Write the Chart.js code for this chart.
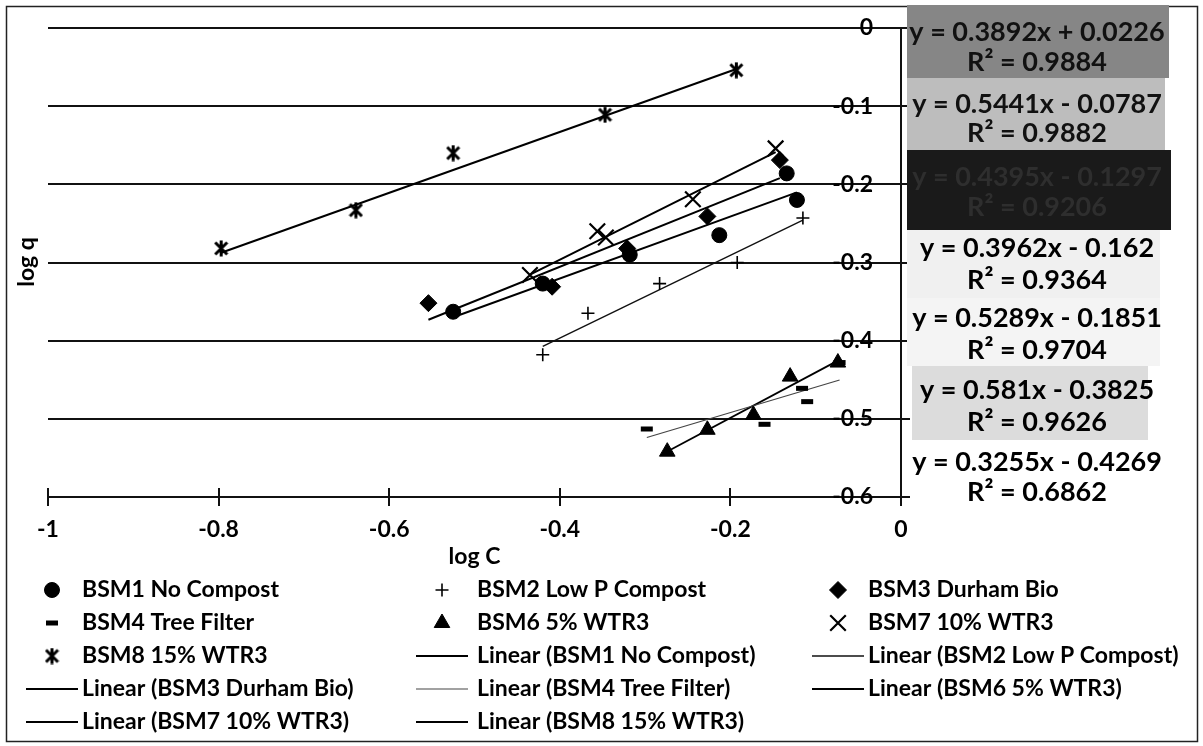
<!DOCTYPE html>
<html lang="en">
<head>
<meta charset="utf-8">
<title>log q vs log C</title>
<script src="https://cdn.jsdelivr.net/npm/chart.js@4.4.1/dist/chart.umd.min.js"></script>
<style>
    html, body { margin: 0; padding: 0; background: #ffffff; }
    canvas { display: block; }
</style>
</head>
<body>
<canvas id="isotherm" width="1203" height="746"></canvas>
<script>
// log C / log q pairs for each media mix
const seriesNames = ['BSM1 No Compost', 'BSM2 Low P Compost', 'BSM3 Durham Bio', 'BSM4 Tree Filter',
                     'BSM6 5% WTR3', 'BSM7 10% WTR3', 'BSM8 15% WTR3'];

const logC_BSM1 = [-0.525, -0.420, -0.318, -0.213, -0.134, -0.122];
const logQ_BSM1 = [-0.363, -0.327, -0.290, -0.265, -0.186, -0.220];

const logC_BSM2 = [-0.420, -0.367, -0.283, -0.192, -0.115];
const logQ_BSM2 = [-0.418, -0.365, -0.327, -0.300, -0.243];

const logC_BSM3 = [-0.554, -0.409, -0.321, -0.227, -0.142];
const logQ_BSM3 = [-0.352, -0.331, -0.282, -0.241, -0.169];

const logC_BSM4 = [-0.298, -0.160, -0.116, -0.110, -0.072];
const logQ_BSM4 = [-0.513, -0.507, -0.461, -0.478, -0.428];

const logC_BSM6 = [-0.274, -0.227, -0.173, -0.130, -0.074];
const logQ_BSM6 = [-0.542, -0.514, -0.495, -0.446, -0.428];

const logC_BSM7 = [-0.435, -0.356, -0.346, -0.244, -0.147];
const logQ_BSM7 = [-0.316, -0.260, -0.268, -0.219, -0.154];

const logC_BSM8 = [-0.797, -0.639, -0.525, -0.347, -0.193];
const logQ_BSM8 = [-0.282, -0.233, -0.160, -0.111, -0.054];

// linear fits, same order as seriesNames
const slopes = [0.3962, 0.5289, 0.4395, 0.3255, 0.581, 0.5441, 0.3892];
const intercepts = [-0.162, -0.1851, -0.1297, -0.4269, -0.3825, -0.0787, 0.0226];
const rSquared = [0.9364, 0.9704, 0.9206, 0.6862, 0.9626, 0.9882, 0.9884];

const xTicks = [-1, -0.8, -0.6, -0.4, -0.2, 0];
const yTicks = [-0.6, -0.5, -0.4, -0.3, -0.2, -0.1, 0];

const logC = [logC_BSM1, logC_BSM2, logC_BSM3, logC_BSM4, logC_BSM6, logC_BSM7, logC_BSM8];
const logQ = [logQ_BSM1, logQ_BSM2, logQ_BSM3, logQ_BSM4, logQ_BSM6, logQ_BSM7, logQ_BSM8];


// Excel style "x with a bar" marker for BSM8
function makeAsterisk(w, h, lw) {
    const c = document.createElement('canvas');
    c.width = w;
    c.height = h;
    const g = c.getContext('2d');
    g.strokeStyle = '#000';
    g.lineWidth = lw;
    g.beginPath();
    g.moveTo(1.5, 2.5); g.lineTo(w - 1.5, h - 2.5);
    g.moveTo(w - 1.5, 2.5); g.lineTo(1.5, h - 2.5);
    g.moveTo(w / 2, 0.5); g.lineTo(w / 2, h - 0.5);
    g.stroke();
    return c;
}

const markerStyles = [
    { pointStyle: 'circle', radius: 7.5, borderWidth: 1, lineWidth: 2, lineColor: '#000' },
    { pointStyle: 'cross', radius: 6.5, borderWidth: 1.6, lineWidth: 1.4, lineColor: '#111' },
    { pointStyle: 'rectRot', radius: 8.5, borderWidth: 1, lineWidth: 2, lineColor: '#000' },
    { pointStyle: 'line', radius: 6, borderWidth: 5, lineWidth: 1.2, lineColor: '#444' },
    { pointStyle: 'triangle', radius: 9, borderWidth: 1, lineWidth: 1.8, lineColor: '#000' },
    { pointStyle: 'crossRot', radius: 11, borderWidth: 2.2, lineWidth: 2, lineColor: '#000' },
    { pointStyle: makeAsterisk(15, 17, 3), radius: 8, borderWidth: 1, lineWidth: 2, lineColor: '#000' }
];

function fitText(i) {
    const b = intercepts[i];
    return ['y = ' + slopes[i] + 'x ' + (b < 0 ? '- ' : '+ ') + Math.abs(b), 'R\u00B2 = ' + rSquared[i]];
}

const pointSets = [];
const fitSets = [];
seriesNames.forEach((name, i) => {
    const st = markerStyles[i];
    pointSets.push({
        label: name,
        data: logC[i].map((c, k) => ({ x: c, y: logQ[i][k] })),
        showLine: false,
        pointStyle: st.pointStyle,
        pointRadius: st.radius,
        pointBorderWidth: st.borderWidth,
        backgroundColor: '#000',
        borderColor: '#000',
        order: 0
    });
    const lo = Math.min(...logC[i]);
    const hi = Math.max(...logC[i]);
    fitSets.push({
        label: 'Linear (' + name + ')',
        data: [lo, hi].map(c => ({ x: c, y: slopes[i] * c + intercepts[i] })),
        showLine: true,
        pointRadius: 0,
        borderColor: st.lineColor,
        borderWidth: st.lineWidth,
        fill: false,
        order: 1
    });
});

// boxes holding the fit equations, top to bottom: BSM8, BSM7, BSM3, BSM1, BSM2, BSM6, BSM4
const labelBoxes = [
    { series: 6, x: 907, y: 5,   w: 262, h: 73, fill: '#868686', ink: '#111', lines: [32, 62] },
    { series: 5, x: 907, y: 78,  w: 258, h: 72, fill: '#bdbdbd', ink: '#111', lines: [104, 133] },
    { series: 2, x: 907, y: 150, w: 264, h: 80, fill: '#1a1a1a', ink: '#2e2e2e', lines: [177, 207] },
    { series: 0, x: 907, y: 230, w: 253, h: 68, fill: '#f0f0f0', ink: '#000', lines: [248, 280] },
    { series: 1, x: 907, y: 298, w: 253, h: 68, fill: '#f4f4f4', ink: '#000', lines: [318, 350] },
    { series: 4, x: 912, y: 366, w: 236, h: 74, fill: '#dcdcdc', ink: '#000', lines: [390, 422] },
    { series: 3, x: 0,   y: 0,   w: 0,   h: 0,  fill: null,      ink: '#000', lines: [462, 492] }
];

const FONT = 'Lato, "Open Sans", sans-serif';

const framePlugin = {
    id: 'frame',
    beforeDraw(chart) {
        const ctx = chart.ctx;
        ctx.save();
        ctx.fillStyle = '#fff';
        ctx.fillRect(0, 0, chart.width, chart.height);
        ctx.restore();
    },
    beforeDatasetsDraw(chart) {
        // x ticks also poke up into the plot
        const ctx = chart.ctx;
        const xs = chart.scales.x;
        ctx.save();
        ctx.strokeStyle = '#111';
        ctx.lineWidth = 2;
        ctx.beginPath();
        xTicks.forEach(v => {
            const px = Math.round(xs.getPixelForValue(v));
            ctx.moveTo(px, xs.top - 9);
            ctx.lineTo(px, xs.top);
        });
        ctx.stroke();
        ctx.restore();
    },
    afterDraw(chart) {
        const ctx = chart.ctx;
        ctx.save();

        // outer border
        ctx.strokeStyle = '#222';
        ctx.lineWidth = 1.5;
        ctx.strokeRect(6.5, 6.5, 1191, 735);

        // log q axis title
        ctx.fillStyle = '#000';
        ctx.font = 'bold 23px ' + FONT;
        ctx.textAlign = 'center';
        ctx.textBaseline = 'middle';
        ctx.save();
        ctx.translate(27, 262);
        ctx.rotate(-Math.PI / 2);
        ctx.fillText('log q', 0, 0);
        ctx.restore();

        // equation boxes
        labelBoxes.forEach(b => {
            if (b.fill) {
                ctx.fillStyle = b.fill;
                ctx.fillRect(b.x, b.y, b.w, b.h);
            }
            ctx.fillStyle = b.ink;
            ctx.font = 'bold 27px ' + FONT;
            const t = fitText(b.series);
            ctx.fillText(t[0], 1037, b.lines[0]);
            ctx.fillText(t[1], 1037, b.lines[1]);
        });

        // legend, three columns
        const symX = [52, 442, 838];
        const textX = [82, 477, 868];
        const rowY = [590, 623, 656, 689, 722];
        const entries = [];
        pointSets.forEach((d, i) => entries.push({ text: d.label, marker: i }));
        fitSets.forEach((d, i) => entries.push({ text: d.label, line: i }));
        ctx.font = 'bold 23px ' + FONT;
        ctx.textAlign = 'left';
        entries.forEach((e, n) => {
            const col = n % 3;
            const y = rowY[Math.floor(n / 3)];
            if (e.marker !== undefined) {
                const st = markerStyles[e.marker];
                ctx.fillStyle = '#000';
                ctx.strokeStyle = '#000';
                ctx.lineWidth = st.borderWidth;
                Chart.helpers.drawPoint(ctx, {
                    pointStyle: st.pointStyle,
                    radius: st.radius,
                    borderWidth: st.borderWidth,
                    rotation: 0
                }, symX[col], y);
            } else {
                const st = markerStyles[e.line];
                ctx.strokeStyle = st.lineColor;
                ctx.lineWidth = st.lineWidth;
                ctx.beginPath();
                ctx.moveTo(symX[col] - 26, y);
                ctx.lineTo(symX[col] + 26, y);
                ctx.stroke();
            }
            ctx.fillStyle = '#000';
            ctx.fillText(e.text, textX[col], y);
        });

        ctx.restore();
    }
};

new Chart(document.getElementById('isotherm'), {
    type: 'scatter',
    data: { datasets: pointSets.concat(fitSets) },
    options: {
        responsive: false,
        animation: false,
        devicePixelRatio: 1,
        layout: { padding: { left: 48, top: 28, right: 290, bottom: 176 } },
        plugins: {
            legend: { display: false },
            tooltip: { enabled: false }
        },
        font: { family: FONT },
        scales: {
            x: {
                type: 'linear',
                position: 'bottom',
                min: -1,
                max: 0,
                afterBuildTicks: scale => { scale.ticks = xTicks.map(v => ({ value: v })); },
                afterFit: scale => { scale.height = 73; },
                ticks: {
                    callback: v => String(v),
                    color: '#000',
                    padding: 10,
                    maxRotation: 0,
                    font: { family: FONT, size: 23, weight: 'bold' }
                },
                grid: {
                    drawOnChartArea: false,
                    drawTicks: true,
                    tickLength: 9,
                    color: '#111',
                    lineWidth: 2
                },
                border: { display: true, color: '#111', width: 2 },
                title: {
                    display: true,
                    text: 'log C',
                    color: '#000',
                    padding: 0,
                    font: { family: FONT, size: 23, weight: 'bold' }
                }
            },
            y: {
                type: 'linear',
                position: 'right',
                min: -0.6,
                max: 0,
                afterBuildTicks: scale => { scale.ticks = yTicks.map(v => ({ value: v })); },
                afterFit: scale => { scale.width = 12; },
                ticks: {
                    mirror: true,
                    padding: -28,
                    callback: v => String(v),
                    color: '#000',
                    font: { family: FONT, size: 23, weight: 'bold' }
                },
                grid: {
                    drawOnChartArea: true,
                    drawTicks: true,
                    tickLength: 9,
                    color: '#111',
                    lineWidth: 2
                },
                border: { display: true, color: '#111', width: 2 }
            }
        }
    },
    plugins: [framePlugin]
});
</script>
</body>
</html>
